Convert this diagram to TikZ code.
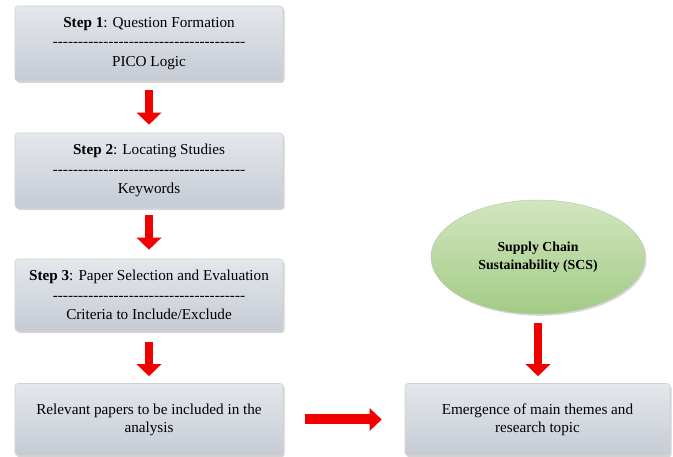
\documentclass[tikz,border=0pt]{standalone}
\usepackage{fontspec}
\setmainfont{Liberation Serif}
\newfontfamily\plainserif{Liberation Serif}[Ligatures=NoCommon]
\usetikzlibrary{arrows.meta,shapes.geometric,shadows}
\definecolor{boxtop}{HTML}{E4E7EC}
\definecolor{boxbot}{HTML}{C6CBD4}
\definecolor{grtop}{HTML}{D2E6C0}
\definecolor{grbot}{HTML}{A2CB85}
\definecolor{arrred}{HTML}{F20000}
\newcommand\dashsep{{\plainserif --------------------------------------}}
\begin{document}
\begin{tikzpicture}[x=1pt,y=-1pt,
  stepbox/.style={rectangle, rounded corners=3pt, minimum width=268pt, align=center,
    top color=boxtop, bottom color=boxbot, draw=gray!35, line width=0.6pt,
    drop shadow={shadow xshift=1.5pt, shadow yshift=-1.8pt, opacity=0.35, fill=gray},
    font=\fontsize{15.2}{19.2}\selectfont, inner sep=0pt},
  scsell/.style={ellipse, minimum width=214pt, minimum height=114pt, align=center,
    top color=grtop, bottom color=grbot, draw=grbot!80!black!60, line width=0.4pt,
    drop shadow={shadow xshift=1.5pt, shadow yshift=-1.8pt, opacity=0.3, fill=gray},
    font=\fontsize{13.8}{18}\selectfont\bfseries, inner sep=0pt},
  fatarrow/.style={draw=arrred, line width=8.5pt,
    -{Triangle[width=24pt,length=12pt]}, arrred},
  fatharrow/.style={draw=arrred, line width=10pt,
    -{Triangle[width=22pt,length=12pt]}, arrred}
]
\useasboundingbox (0,0) rectangle (673,457);
\node[stepbox, minimum height=75pt] (b1) at (149,43.5)
  {\textbf{Step 1}: Question Formation\\\dashsep\\PICO Logic};
\node[stepbox, minimum height=75pt] (b2) at (149,170.5)
  {\textbf{Step 2}: Locating Studies\\\dashsep\\Keywords};
\node[stepbox, minimum height=72pt] (b3) at (149,295)
  {\textbf{Step 3}: Paper Selection and Evaluation\\\dashsep\\Criteria to Include/Exclude};
\node[stepbox, minimum height=72pt, font=\fontsize{15.2}{18}\selectfont] (b4) at (149,419.5)
  {Relevant papers to be included in the\\analysis};
\node[stepbox, minimum width=265pt, minimum height=72pt, font=\fontsize{15.2}{18}\selectfont] (b5) at (537.5,419.5)
  {Emergence of main themes and\\research topic};
\node[scsell] (scs) at (538,257) {Supply Chain\\Sustainability (SCS)};

\draw[fatarrow, shorten <=9pt, shorten >=8pt] (b1.south) -- (b2.north);
\draw[fatarrow, shorten <=7pt, shorten >=9pt] (b2.south) -- (b3.north);
\draw[fatarrow, shorten <=11pt, shorten >=7pt] (b3.south) -- (b4.north);
\draw[fatarrow, shorten <=9pt, shorten >=7pt] (scs.south) -- (scs.south |- b5.north);
\draw[fatharrow, shorten <=22pt, shorten >=23pt] (b4.east) -- (b5.west);
\end{tikzpicture}
\end{document}
